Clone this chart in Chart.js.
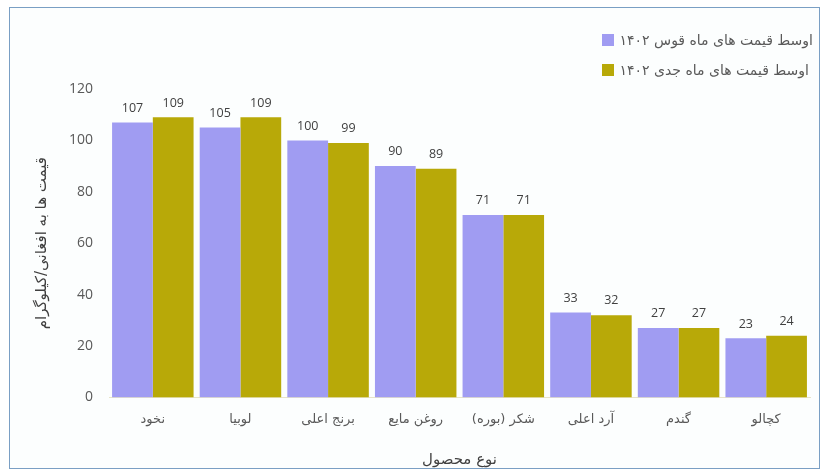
<!DOCTYPE html>
<html>
<head>
<meta charset="utf-8">
<script src="https://cdn.jsdelivr.net/npm/chart.js@4"></script>
<style>
    body { margin: 0; background: #ffffff; }
    #frame {
        position: absolute; left: 9px; top: 7px; width: 809px; height: 460px;
        border: 1px solid #7a9fc4; background: #fcfefe;
    }
    #chartBox { position: absolute; left: 0; top: 0; width: 809px; height: 468px; }
    #legend {
        position: absolute; right: 6px; top: 17px;
        font-family: "DejaVu Sans", sans-serif; font-size: 14px; color: #595959;
    }
    .item { display: flex; align-items: center; height: 30px; }
    .item span.txt { direction: rtl; }
    .box { width: 12px; height: 12px; margin-right: 6px; }
</style>
</head>
<body>
<div id="frame">
    <div id="chartBox"><canvas id="priceChart"></canvas></div>
    <div id="legend"></div>
</div>
<script>
const products = ["نخود", "لوبیا", "برنج اعلی", "روغن مایع", "شکر (بوره)", "آرد اعلی", "گندم", "کچالو"];
const qawsPrices = [107, 105, 100, 90, 71, 33, 27, 23];
const jadiPrices = [109, 109, 99, 89, 71, 32, 27, 24];
const seriesNames = ["اوسط قیمت های ماه قوس ۱۴۰۲", "اوسط قیمت های ماه جدی ۱۴۰۲"];
const COLORS = ["#a09cf2", "#b8a908"];
const yTicks = [0, 20, 40, 60, 80, 100, 120];

const TEXT = "#595959";

// -- value labels above bars
const barLabels = {
    id: "barLabels",
    afterDatasetsDraw(chart) {
        const ctx = chart.ctx;
        ctx.save();
        ctx.font = "12.5px 'Open Sans', 'DejaVu Sans', sans-serif";
        ctx.fillStyle = "#404040";
        ctx.textAlign = "center";
        ctx.textBaseline = "bottom";
        chart.data.datasets.forEach((ds, i) => {
            chart.getDatasetMeta(i).data.forEach((bar, j) => {
                ctx.fillText(ds.data[j], bar.x, bar.y - 8);
            });
        });
        ctx.restore();
    }
};

const ctx = document.getElementById("priceChart").getContext("2d");
const chart = new Chart(ctx, {
    type: "bar",
    data: {
        labels: products,
        datasets: [
            { label: seriesNames[0], data: qawsPrices, backgroundColor: COLORS[0] },
            { label: seriesNames[1], data: jadiPrices, backgroundColor: COLORS[1] }
        ]
    },
    options: {
        responsive: true,
        maintainAspectRatio: false,
        animation: false,
        categoryPercentage: 0.93,
        barPercentage: 1,
        layout: { padding: { top: 81, right: 9, left: 19, bottom: 3 } },
        plugins: {
            legend: { display: false },
            tooltip: { enabled: false }
        },
        scales: {
            x: {
                grid: { display: false, drawTicks: false },
                border: { color: "#e8e4c8" },
                ticks: {
                    color: TEXT,
                    padding: 14,
                    font: { family: "'DejaVu Sans', sans-serif", size: 13 }
                },
                title: {
                    display: true,
                    text: "نوع محصول",
                    color: "#404040",
                    padding: { top: 10 },
                    font: { family: "'DejaVu Sans', sans-serif", size: 15 }
                }
            },
            y: {
                min: 0,
                max: 120,
                afterBuildTicks: axis => { axis.ticks = yTicks.map(v => ({ value: v })); },
                grid: { display: false, drawTicks: false },
                border: { display: false },
                ticks: {
                    color: TEXT,
                    padding: 16,
                    font: { family: "'Open Sans', sans-serif", size: 14 }
                },
                title: {
                    display: true,
                    text: "قیمت ها به افغانی/کیلوگرام",
                    color: "#404040",
                    padding: { bottom: 2 },
                    font: { family: "'DejaVu Sans', sans-serif", size: 15 }
                }
            }
        }
    },
    plugins: [barLabels]
});

// -- legend in the top right corner, stacked
const legend = document.getElementById("legend");
chart.data.datasets.forEach(ds => {
    const item = document.createElement("div");
    item.className = "item";
    const box = document.createElement("span");
    box.className = "box";
    box.style.background = ds.backgroundColor;
    const txt = document.createElement("span");
    txt.className = "txt";
    txt.textContent = ds.label;
    item.appendChild(box);
    item.appendChild(txt);
    legend.appendChild(item);
});
</script>
</body>
</html>
